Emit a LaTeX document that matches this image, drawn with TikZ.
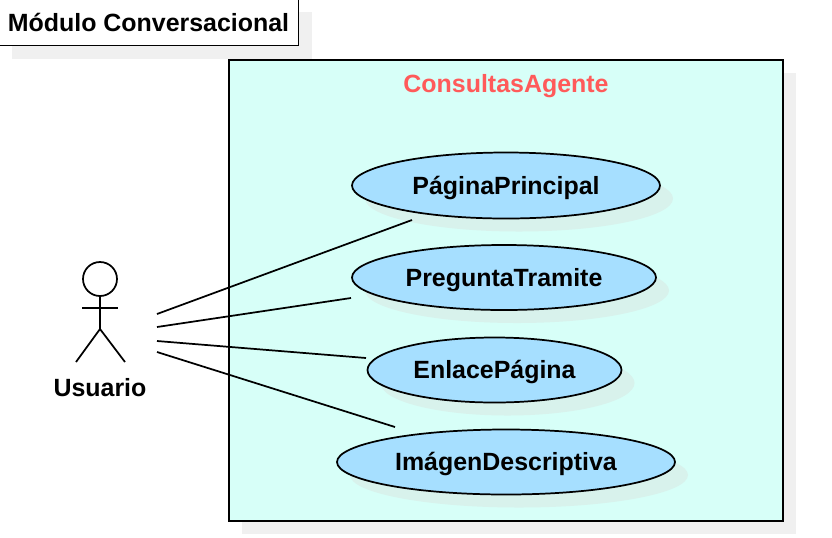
\documentclass[tikz,border=0pt]{standalone}
\usepackage{fontspec}
\setmainfont{Liberation Sans}
\usetikzlibrary{shapes.geometric,shadows}
\definecolor{boxfill}{HTML}{D7FFF8}
\definecolor{usefill}{HTML}{A6DFFF}
\definecolor{boxshadow}{HTML}{F0F0F0}
\definecolor{useshadow}{HTML}{D8F2EC}
\definecolor{titlered}{HTML}{FF5A5A}
\tikzset{
  lbl/.style={font=\bfseries\fontsize{18.7pt}{22pt}\selectfont,inner sep=0pt,text height=16pt,text depth=3.25pt},
  usecase/.style={ellipse,draw,fill=usefill,line width=1.3pt,inner sep=0pt,
    lbl,general shadow={shadow xshift=9.75pt,shadow yshift=-9.75pt,fill=useshadow}},
  frame/.style={rectangle,draw,line width=1.3pt,inner sep=0pt,
    general shadow={shadow xshift=9.75pt,shadow yshift=-9.75pt,fill=boxshadow}},
  stick/.style={line width=1.3pt},
}
\begin{document}
\begin{tikzpicture}[x=.75pt,y=-.75pt]
  \useasboundingbox (0,0) rectangle (832,537);
  \clip (0,0) rectangle (832,537);
  % Title
  \node [frame,fill=white,minimum width=300*.75pt,minimum height=47*.75pt,lbl,text height=17.5pt] (title) at (148.5,22) {Módulo Conversacional};
  % System box
  \node [frame,fill=boxfill,minimum width=554*.75pt,minimum height=461*.75pt] (sys) at (506,290.5) {};
  \node [lbl,text=titlered] (systitle) at (506,83.5) {ConsultasAgente};
  % Use cases
  \node [usecase,minimum width=308*.75pt,minimum height=66*.75pt] (pagina) at (506,185.5) {PáginaPrincipal};
  \node [usecase,minimum width=304*.75pt,minimum height=65*.75pt] (pregunta) at (504,277.5) {PreguntaTramite};
  \node [usecase,minimum width=254*.75pt,minimum height=65*.75pt] (enlace) at (494.5,370) {EnlacePágina};
  \node [usecase,minimum width=338*.75pt,minimum height=65*.75pt] (imagen) at (506,462) {ImágenDescriptiva};
  % Actor
  \node [circle,draw,stick,minimum size=34*.75pt,inner sep=0pt] (head) at (100,279) {};
  \coordinate (hip) at (100,329);
  \draw [stick] (head.south) -- (hip);
  \draw [stick] (82,308) -- (118,308);
  \draw [stick] (76,362) -- (hip) -- (125,362);
  \node [lbl] (usuario) at (100,388) {Usuario};
  % Links
  \coordinate (u1) at (157,314);
  \coordinate (u2) at (157,327);
  \coordinate (u3) at (157,341);
  \coordinate (u4) at (157,352);
  \coordinate (e1) at (412,220);
  \coordinate (e2) at (351,298);
  \coordinate (e3) at (366,358);
  \coordinate (e4) at (395,427);
  \draw [stick] (u1) -- (e1);
  \draw [stick] (u2) -- (e2);
  \draw [stick] (u3) -- (e3);
  \draw [stick] (u4) -- (e4);
\end{tikzpicture}
\end{document}
